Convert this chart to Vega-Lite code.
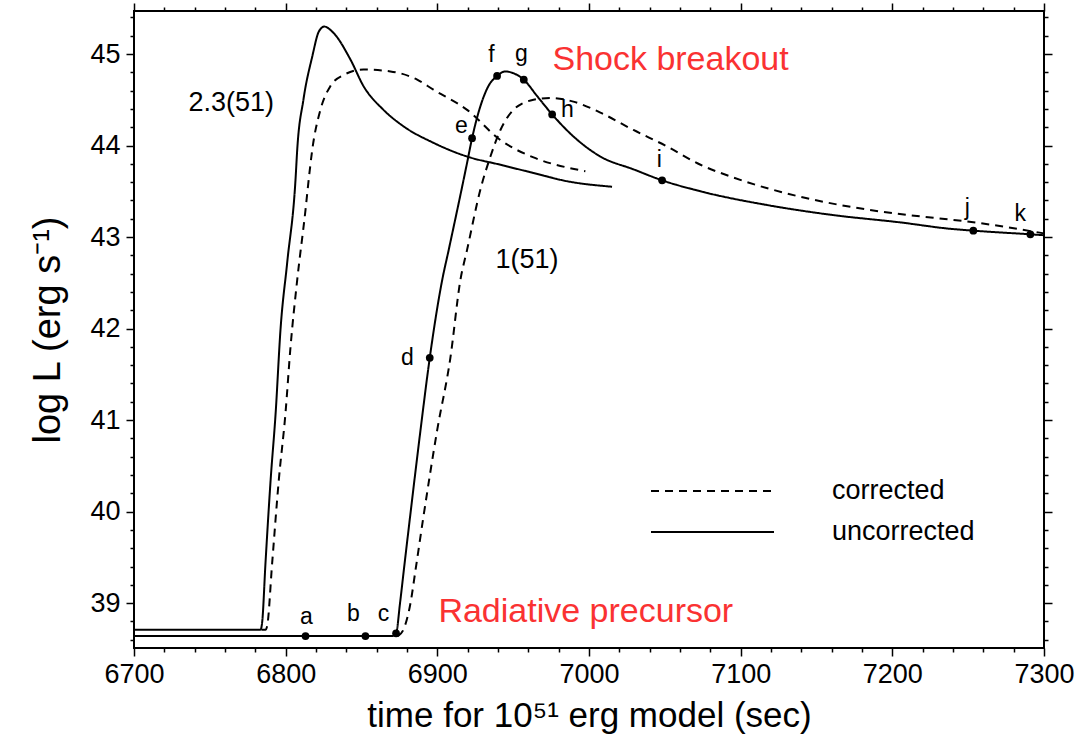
{
  "$schema": "https://vega.github.io/schema/vega-lite/v6.json",
  "width": 910,
  "height": 637,
  "autosize": {"type": "none"},
  "padding": {"left": 134, "top": 11, "right": 34, "bottom": 88},
  "background": "white",
  "config": {
    "view": {"stroke": "black", "strokeWidth": 2},
    "font": "Liberation Sans",
    "axis": {"grid": false, "labelColor": "black", "titleColor": "black", "labelFont": "Liberation Sans", "titleFont": "Liberation Sans", "titleFontWeight": "normal"}
  },
  "datasets": {
    "curves": [
      {"model": "2.3(51)", "type": "uncorrected", "t": 6700, "logL": 38.71},
      {"model": "2.3(51)", "type": "uncorrected", "t": 6783.4, "logL": 38.71},
      {"model": "2.3(51)", "type": "uncorrected", "t": 6784.5, "logL": 38.79},
      {"model": "2.3(51)", "type": "uncorrected", "t": 6786.7, "logL": 39.44},
      {"model": "2.3(51)", "type": "uncorrected", "t": 6790.1, "logL": 40.35},
      {"model": "2.3(51)", "type": "uncorrected", "t": 6793.4, "logL": 41.08},
      {"model": "2.3(51)", "type": "uncorrected", "t": 6796.6, "logL": 41.99},
      {"model": "2.3(51)", "type": "uncorrected", "t": 6801.0, "logL": 42.72},
      {"model": "2.3(51)", "type": "uncorrected", "t": 6806.5, "logL": 43.63},
      {"model": "2.3(51)", "type": "uncorrected", "t": 6807.6, "logL": 43.95},
      {"model": "2.3(51)", "type": "uncorrected", "t": 6811.7, "logL": 44.50},
      {"model": "2.3(51)", "type": "uncorrected", "t": 6817.5, "logL": 44.97},
      {"model": "2.3(51)", "type": "uncorrected", "t": 6822.0, "logL": 45.25},
      {"model": "2.3(51)", "type": "uncorrected", "t": 6825.5, "logL": 45.30},
      {"model": "2.3(51)", "type": "uncorrected", "t": 6831.0, "logL": 45.24},
      {"model": "2.3(51)", "type": "uncorrected", "t": 6842.7, "logL": 44.94},
      {"model": "2.3(51)", "type": "uncorrected", "t": 6851.3, "logL": 44.65},
      {"model": "2.3(51)", "type": "uncorrected", "t": 6864.5, "logL": 44.39},
      {"model": "2.3(51)", "type": "uncorrected", "t": 6877.7, "logL": 44.21},
      {"model": "2.3(51)", "type": "uncorrected", "t": 6897.4, "logL": 44.03},
      {"model": "2.3(51)", "type": "uncorrected", "t": 6919.6, "logL": 43.88},
      {"model": "2.3(51)", "type": "uncorrected", "t": 6941.6, "logL": 43.79},
      {"model": "2.3(51)", "type": "uncorrected", "t": 6963.4, "logL": 43.70},
      {"model": "2.3(51)", "type": "uncorrected", "t": 6985.6, "logL": 43.61},
      {"model": "2.3(51)", "type": "uncorrected", "t": 7015.2, "logL": 43.55},
      {"model": "2.3(51)", "type": "corrected", "t": 6784.0, "logL": 38.71},
      {"model": "2.3(51)", "type": "corrected", "t": 6786.7, "logL": 38.71},
      {"model": "2.3(51)", "type": "corrected", "t": 6787.8, "logL": 38.75},
      {"model": "2.3(51)", "type": "corrected", "t": 6791.1, "logL": 39.44},
      {"model": "2.3(51)", "type": "corrected", "t": 6795.5, "logL": 40.35},
      {"model": "2.3(51)", "type": "corrected", "t": 6799.9, "logL": 41.08},
      {"model": "2.3(51)", "type": "corrected", "t": 6803.2, "logL": 41.80},
      {"model": "2.3(51)", "type": "corrected", "t": 6807.6, "logL": 42.53},
      {"model": "2.3(51)", "type": "corrected", "t": 6813.1, "logL": 43.30},
      {"model": "2.3(51)", "type": "corrected", "t": 6815.2, "logL": 43.63},
      {"model": "2.3(51)", "type": "corrected", "t": 6817.5, "logL": 43.95},
      {"model": "2.3(51)", "type": "corrected", "t": 6822.9, "logL": 44.39},
      {"model": "2.3(51)", "type": "corrected", "t": 6829.5, "logL": 44.65},
      {"model": "2.3(51)", "type": "corrected", "t": 6838.1, "logL": 44.77},
      {"model": "2.3(51)", "type": "corrected", "t": 6851.3, "logL": 44.83},
      {"model": "2.3(51)", "type": "corrected", "t": 6869.1, "logL": 44.81},
      {"model": "2.3(51)", "type": "corrected", "t": 6886.7, "logL": 44.72},
      {"model": "2.3(51)", "type": "corrected", "t": 6897.4, "logL": 44.61},
      {"model": "2.3(51)", "type": "corrected", "t": 6919.6, "logL": 44.39},
      {"model": "2.3(51)", "type": "corrected", "t": 6941.6, "logL": 44.06},
      {"model": "2.3(51)", "type": "corrected", "t": 6963.4, "logL": 43.87},
      {"model": "2.3(51)", "type": "corrected", "t": 6985.6, "logL": 43.76},
      {"model": "2.3(51)", "type": "corrected", "t": 6997.6, "logL": 43.72},
      {"model": "1(51)", "type": "uncorrected", "t": 6700, "logL": 38.64},
      {"model": "1(51)", "type": "uncorrected", "t": 6870.0, "logL": 38.64},
      {"model": "1(51)", "type": "uncorrected", "t": 6872.8, "logL": 38.67},
      {"model": "1(51)", "type": "uncorrected", "t": 6875.4, "logL": 39.00},
      {"model": "1(51)", "type": "uncorrected", "t": 6877.9, "logL": 39.36},
      {"model": "1(51)", "type": "uncorrected", "t": 6882.0, "logL": 39.94},
      {"model": "1(51)", "type": "uncorrected", "t": 6888.9, "logL": 40.89},
      {"model": "1(51)", "type": "uncorrected", "t": 6895.0, "logL": 41.68},
      {"model": "1(51)", "type": "uncorrected", "t": 6903.2, "logL": 42.53},
      {"model": "1(51)", "type": "uncorrected", "t": 6907.5, "logL": 42.86},
      {"model": "1(51)", "type": "uncorrected", "t": 6919.6, "logL": 43.81},
      {"model": "1(51)", "type": "uncorrected", "t": 6922.9, "logL": 44.08},
      {"model": "1(51)", "type": "uncorrected", "t": 6928.4, "logL": 44.43},
      {"model": "1(51)", "type": "uncorrected", "t": 6933.7, "logL": 44.65},
      {"model": "1(51)", "type": "uncorrected", "t": 6939.4, "logL": 44.76},
      {"model": "1(51)", "type": "uncorrected", "t": 6944.9, "logL": 44.81},
      {"model": "1(51)", "type": "uncorrected", "t": 6950.2, "logL": 44.79},
      {"model": "1(51)", "type": "uncorrected", "t": 6957.0, "logL": 44.72},
      {"model": "1(51)", "type": "uncorrected", "t": 6965.8, "logL": 44.54},
      {"model": "1(51)", "type": "uncorrected", "t": 6975.7, "logL": 44.34},
      {"model": "1(51)", "type": "uncorrected", "t": 6989.7, "logL": 44.10},
      {"model": "1(51)", "type": "uncorrected", "t": 7007.5, "logL": 43.88},
      {"model": "1(51)", "type": "uncorrected", "t": 7029.3, "logL": 43.74},
      {"model": "1(51)", "type": "uncorrected", "t": 7048.2, "logL": 43.62},
      {"model": "1(51)", "type": "uncorrected", "t": 7073.5, "logL": 43.50},
      {"model": "1(51)", "type": "uncorrected", "t": 7117.4, "logL": 43.35},
      {"model": "1(51)", "type": "uncorrected", "t": 7161.1, "logL": 43.24},
      {"model": "1(51)", "type": "uncorrected", "t": 7205.3, "logL": 43.16},
      {"model": "1(51)", "type": "uncorrected", "t": 7238.3, "logL": 43.09},
      {"model": "1(51)", "type": "uncorrected", "t": 7253.4, "logL": 43.07},
      {"model": "1(51)", "type": "uncorrected", "t": 7291.0, "logL": 43.03},
      {"model": "1(51)", "type": "uncorrected", "t": 7300, "logL": 43.02},
      {"model": "1(51)", "type": "corrected", "t": 6874.0, "logL": 38.64},
      {"model": "1(51)", "type": "corrected", "t": 6877.9, "logL": 38.72},
      {"model": "1(51)", "type": "corrected", "t": 6882.3, "logL": 39.00},
      {"model": "1(51)", "type": "corrected", "t": 6885.6, "logL": 39.36},
      {"model": "1(51)", "type": "corrected", "t": 6890.8, "logL": 39.94},
      {"model": "1(51)", "type": "corrected", "t": 6899.9, "logL": 40.89},
      {"model": "1(51)", "type": "corrected", "t": 6908.6, "logL": 41.68},
      {"model": "1(51)", "type": "corrected", "t": 6915.2, "logL": 42.53},
      {"model": "1(51)", "type": "corrected", "t": 6919.6, "logL": 42.86},
      {"model": "1(51)", "type": "corrected", "t": 6928.4, "logL": 43.52},
      {"model": "1(51)", "type": "corrected", "t": 6935.0, "logL": 43.88},
      {"model": "1(51)", "type": "corrected", "t": 6941.6, "logL": 44.17},
      {"model": "1(51)", "type": "corrected", "t": 6950.2, "logL": 44.39},
      {"model": "1(51)", "type": "corrected", "t": 6963.4, "logL": 44.50},
      {"model": "1(51)", "type": "corrected", "t": 6974.6, "logL": 44.52},
      {"model": "1(51)", "type": "corrected", "t": 6989.7, "logL": 44.48},
      {"model": "1(51)", "type": "corrected", "t": 7007.5, "logL": 44.36},
      {"model": "1(51)", "type": "corrected", "t": 7029.3, "logL": 44.17},
      {"model": "1(51)", "type": "corrected", "t": 7051.5, "logL": 43.99},
      {"model": "1(51)", "type": "corrected", "t": 7073.5, "logL": 43.79},
      {"model": "1(51)", "type": "corrected", "t": 7095.3, "logL": 43.65},
      {"model": "1(51)", "type": "corrected", "t": 7139.4, "logL": 43.44},
      {"model": "1(51)", "type": "corrected", "t": 7183.6, "logL": 43.30},
      {"model": "1(51)", "type": "corrected", "t": 7227.1, "logL": 43.21},
      {"model": "1(51)", "type": "corrected", "t": 7249.5, "logL": 43.17},
      {"model": "1(51)", "type": "corrected", "t": 7293.0, "logL": 43.06},
      {"model": "1(51)", "type": "corrected", "t": 7300, "logL": 43.04}
    ],
    "points": [
      {"label": "a", "t": 6813.1, "logL": 38.64, "label_t": 6813.7, "label_logL": 38.85},
      {"label": "b", "t": 6852.6, "logL": 38.64, "label_t": 6844.7, "label_logL": 38.88},
      {"label": "c", "t": 6872.8, "logL": 38.67, "label_t": 6864.5, "label_logL": 38.88},
      {"label": "d", "t": 6895.0, "logL": 41.68, "label_t": 6880.3, "label_logL": 41.68},
      {"label": "e", "t": 6922.9, "logL": 44.08, "label_t": 6915.9, "label_logL": 44.21},
      {"label": "f", "t": 6939.4, "logL": 44.76, "label_t": 6935.7, "label_logL": 44.99},
      {"label": "g", "t": 6957.0, "logL": 44.72, "label_t": 6955.5, "label_logL": 45.0},
      {"label": "h", "t": 6975.7, "logL": 44.34, "label_t": 6985.8, "label_logL": 44.39},
      {"label": "i", "t": 7048.2, "logL": 43.62, "label_t": 7046.4, "label_logL": 43.84},
      {"label": "j", "t": 7253.4, "logL": 43.07, "label_t": 7249.4, "label_logL": 43.32},
      {"label": "k", "t": 7291.0, "logL": 43.03, "label_t": 7284.4, "label_logL": 43.25}
    ],
    "curve_labels": [
      {"text": "2.3(51)", "t": 6735.9, "logL": 44.373},
      {"text": "1(51)", "t": 6938.3, "logL": 42.666}
    ],
    "notes": [
      {"text": "Shock breakout", "t": 6975.9, "logL": 44.828},
      {"text": "Radiative precursor", "t": 6900.7, "logL": 38.799}
    ]
  },
  "layer": [
    {
      "data": {"name": "curves"},
      "mark": {"type": "line", "strokeWidth": 2, "color": "black", "interpolate": "monotone"},
      "encoding": {
        "x": {"field": "t", "type": "quantitative", "scale": {"domain": [6700, 7300], "nice": false, "zero": false},
          "axis": {"orient": "bottom", "values": [6700, 6800, 6900, 7000, 7100, 7200, 7300], "format": "d", "domain": false, "ticks": true, "tickSize": 8, "tickColor": "black", "tickWidth": 1.5, "labelPadding": 5, "labelFontSize": 27, "labelFlush": false, "title": "time for 10⁵¹ erg model (sec)", "titleFontSize": 35, "titlePadding": 11}},
        "y": {"field": "logL", "type": "quantitative", "scale": {"domain": [38.51, 45.47], "nice": false, "zero": false},
          "axis": {"orient": "left", "values": [39, 40, 41, 42, 43, 44, 45], "format": "d", "domain": false, "ticks": true, "tickSize": 8, "tickColor": "black", "tickWidth": 1.5, "labelPadding": 6, "labelFontSize": 27, "labelFlush": false, "title": "log L (erg s⁻¹)", "titleFontSize": 38, "titlePadding": 22}},
        "detail": {"field": "model"},
        "strokeDash": {"field": "type", "type": "nominal",
          "scale": {"domain": ["corrected", "uncorrected"], "range": [[8, 6], [1, 0]]},
          "legend": {"orient": "none", "legendX": 516, "legendY": 470, "title": null, "symbolType": "stroke", "symbolSize": 15129, "symbolStrokeWidth": 2, "symbolStrokeColor": "black", "labelFontSize": 27, "labelFont": "Liberation Sans", "labelColor": "black", "labelOffset": 57, "clipHeight": 20, "rowPadding": 14, "padding": 0}}
      }
    },
    {
      "data": {"name": "points"},
      "mark": {"type": "circle", "size": 60, "color": "black", "opacity": 1},
      "encoding": {
        "x": {"field": "t", "type": "quantitative", "scale": {"domain": [6700, 7300], "nice": false, "zero": false},
          "axis": {"orient": "bottom", "values": [6720, 6740, 6760, 6780, 6820, 6840, 6860, 6880, 6920, 6940, 6960, 6980, 7020, 7040, 7060, 7080, 7120, 7140, 7160, 7180, 7220, 7240, 7260, 7280], "domain": false, "ticks": true, "tickSize": 4, "tickColor": "black", "tickWidth": 1.5, "labels": false, "title": null}},
        "y": {"field": "logL", "type": "quantitative", "scale": {"domain": [38.51, 45.47], "nice": false, "zero": false},
          "axis": {"orient": "left", "values": [38.6, 38.8, 39.2, 39.4, 39.6, 39.8, 40.2, 40.4, 40.6, 40.8, 41.2, 41.4, 41.6, 41.8, 42.2, 42.4, 42.6, 42.8, 43.2, 43.4, 43.6, 43.8, 44.2, 44.4, 44.6, 44.8, 45.2, 45.4], "domain": false, "ticks": true, "tickSize": 4, "tickColor": "black", "tickWidth": 1.5, "labels": false, "title": null}}
      }
    },
    {
      "data": {"name": "points"},
      "mark": {"type": "text", "fontSize": 23, "font": "Liberation Sans", "align": "center", "baseline": "middle", "color": "black"},
      "encoding": {
        "x": {"field": "label_t", "type": "quantitative", "scale": {"domain": [6700, 7300], "nice": false, "zero": false},
          "axis": {"orient": "top", "values": [6700, 6800, 6900, 7000, 7100, 7200, 7300], "domain": false, "ticks": true, "tickSize": 8, "tickColor": "black", "tickWidth": 1.5, "labels": false, "title": null}},
        "y": {"field": "label_logL", "type": "quantitative", "scale": {"domain": [38.51, 45.47], "nice": false, "zero": false},
          "axis": {"orient": "right", "values": [39, 40, 41, 42, 43, 44, 45], "domain": false, "ticks": true, "tickSize": 8, "tickColor": "black", "tickWidth": 1.5, "labels": false, "title": null}},
        "text": {"field": "label"}
      }
    },
    {
      "data": {"name": "curve_labels"},
      "mark": {"type": "text", "fontSize": 27, "font": "Liberation Sans", "align": "left", "baseline": "alphabetic", "color": "black"},
      "encoding": {
        "x": {"field": "t", "type": "quantitative", "scale": {"domain": [6700, 7300], "nice": false, "zero": false},
          "axis": {"orient": "top", "values": [6720, 6740, 6760, 6780, 6820, 6840, 6860, 6880, 6920, 6940, 6960, 6980, 7020, 7040, 7060, 7080, 7120, 7140, 7160, 7180, 7220, 7240, 7260, 7280], "domain": false, "ticks": true, "tickSize": 4, "tickColor": "black", "tickWidth": 1.5, "labels": false, "title": null}},
        "y": {"field": "logL", "type": "quantitative", "scale": {"domain": [38.51, 45.47], "nice": false, "zero": false},
          "axis": {"orient": "right", "values": [38.6, 38.8, 39.2, 39.4, 39.6, 39.8, 40.2, 40.4, 40.6, 40.8, 41.2, 41.4, 41.6, 41.8, 42.2, 42.4, 42.6, 42.8, 43.2, 43.4, 43.6, 43.8, 44.2, 44.4, 44.6, 44.8, 45.2, 45.4], "domain": false, "ticks": true, "tickSize": 4, "tickColor": "black", "tickWidth": 1.5, "labels": false, "title": null}},
        "text": {"field": "text"}
      }
    },
    {
      "data": {"name": "notes"},
      "mark": {"type": "text", "fontSize": 34, "font": "Liberation Sans", "align": "left", "baseline": "alphabetic", "color": "#fa3232"},
      "encoding": {
        "x": {"field": "t", "type": "quantitative", "scale": {"domain": [6700, 7300], "nice": false, "zero": false}, "axis": null},
        "y": {"field": "logL", "type": "quantitative", "scale": {"domain": [38.51, 45.47], "nice": false, "zero": false}, "axis": null},
        "text": {"field": "text"}
      }
    }
  ],
  "resolve": {"axis": {"x": "independent", "y": "independent"}}
}
